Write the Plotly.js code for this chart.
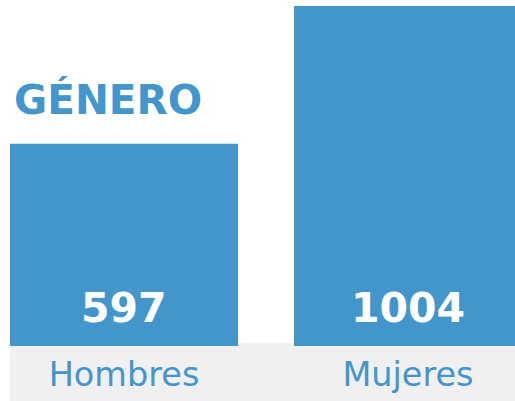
<!DOCTYPE html>
<html><head><meta charset="utf-8">
<script src="https://cdn.plot.ly/plotly-3.0.1.min.js"></script>
<style>html,body{margin:0;padding:0;background:#fff}#c{width:515px;height:401px}</style>
</head><body><div id="c"></div>
<script>
const categories = ["Hombres", "Mujeres"];
const values = [597, 1004];
const chartTitle = "GÉNERO";

const blue = "#4396CC";
const trace = {
  type: "bar",
  x: categories,
  y: values,
  width: 0.803,
  marker: {color: blue},
  hoverinfo: "none"
};
const annotations = categories.map((c, i) => ({
  x: c, y: 0, xref: "x", yref: "y",
  text: "<b>" + values[i] + "</b>",
  showarrow: false, yanchor: "bottom", yshift: 12,
  font: {family: "DejaVu Sans", size: 41, color: "#ffffff"}
}));
const layout = {
  width: 515, height: 401,
  margin: {l: 0, r: 0, t: 6, b: 55, pad: 0},
  paper_bgcolor: "#ffffff", plot_bgcolor: "rgba(0,0,0,0)",
  showlegend: false,
  title: {
    text: "<b>" + chartTitle + "</b>",
    x: 14/515, xanchor: "left", xref: "paper",
    y: 0.75, yanchor: "middle", yref: "container",
    font: {family: "DejaVu Sans", size: 40.5, color: blue}
  },
  xaxis: {
    type: "category",
    range: [-0.4366, 1.3768],
    showgrid: false, zeroline: false, showline: false, ticks: "",
    ticklabelstandoff: 5,
    tickfont: {family: "DejaVu Sans", size: 33.5, color: blue},
    fixedrange: true
  },
  yaxis: {
    range: [0, 1004],
    visible: false, showgrid: false, zeroline: false,
    fixedrange: true
  },
  shapes: [{
    type: "rect", layer: "below",
    xref: "x", yref: "paper",
    x0: -0.4015, x1: 1.5, y0: -0.165, y1: 0.0088,
    fillcolor: "#F0F0F0", line: {width: 0}
  }],
  annotations: annotations
};
Plotly.newPlot("c", [trace], layout, {staticPlot: true, displayModeBar: false});
</script></body></html>
